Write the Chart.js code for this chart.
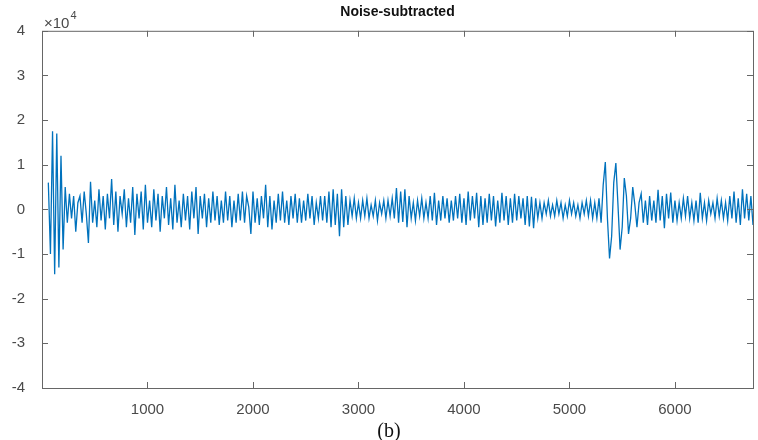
<!DOCTYPE html>
<html>
<head>
<meta charset="utf-8">
<title>Noise-subtracted</title>
<script src="https://cdn.jsdelivr.net/npm/chart.js@4/dist/chart.umd.min.js"></script>
<style>
  html, body { margin: 0; padding: 0; background: #fff; }
  #wrap { width: 758px; height: 440px; }
</style>
</head>
<body>
<div id="wrap"><canvas id="noiseChart" width="758" height="440"></canvas></div>
<script>
// sample index of the first value and spacing between values
const sampleStart = 60;
const sampleStep = 20;

// amplitude, in units of 10^4
const signal = [
    0.6, -1.0, 1.75, -1.45, 1.7, -1.3, 1.2, -0.9, 0.5, -0.3,
    0.35, -0.2, 0.3, -0.5, 0.15, 0.3, -0.3, 0.4, -0.1, -0.75,
    0.62, -0.3, 0.2, -0.4, 0.45, -0.25, 0.3, -0.45, 0.35, -0.2,
    0.68, -0.35, 0.4, -0.5, 0.3, -0.1, 0.45, -0.4, 0.25, -0.3,
    0.5, -0.57, 0.35, -0.2, 0.4, -0.45, 0.55, -0.3, 0.2, -0.4,
    0.45, -0.25, 0.35, -0.5, 0.3, -0.2, 0.5, -0.35, 0.25, -0.45,
    0.55, -0.3, 0.2, -0.4, 0.35, -0.25, 0.3, -0.45, 0.4, -0.2,
    0.5, -0.55, 0.3, -0.2, 0.35, -0.4, 0.25, -0.3, 0.4, -0.25,
    0.3, -0.35, 0.2, -0.3, 0.4, -0.25, 0.3, -0.4, 0.2, -0.3,
    0.35, -0.25, 0.4, -0.3, 0.3, 0.05, -0.55, 0.4, -0.3, 0.25,
    -0.35, 0.3, -0.2, 0.55, -0.4, 0.3, -0.45, 0.2, -0.3, 0.35,
    -0.25, 0.4, -0.3, 0.2, -0.35, 0.3, -0.2, 0.35, -0.3, 0.25,
    -0.3, 0.2, -0.25, 0.35, -0.2, 0.3, -0.35, 0.15, -0.2, 0.3,
    -0.25, 0.3, -0.3, 0.4, -0.4, 0.45, -0.35, 0.35, -0.6, 0.45,
    -0.4, 0.3, -0.35, 0.2, -0.15, 0.25, -0.2, 0.15, -0.2, 0.2,
    -0.15, 0.25, -0.2, 0.1, -0.15, 0.2, -0.25, 0.15, -0.1, 0.2,
    -0.2, 0.2, -0.15, 0.25, -0.2, 0.48, -0.3, 0.4, -0.28, 0.45,
    -0.4, 0.3, -0.2, 0.15, -0.25, 0.2, -0.15, 0.25, -0.2, 0.15,
    -0.2, 0.3, -0.25, 0.37, -0.35, 0.2, -0.25, 0.3, -0.2, 0.25,
    -0.3, 0.2, -0.25, 0.3, -0.2, 0.35, -0.3, 0.25, -0.35, 0.4,
    -0.25, 0.3, -0.2, 0.37, -0.4, 0.3, -0.35, 0.25, -0.3, 0.35,
    -0.25, 0.3, -0.38, 0.2, -0.3, 0.37, -0.25, 0.3, -0.35, 0.25,
    -0.3, 0.35, -0.25, 0.3, -0.2, 0.25, -0.35, 0.3, -0.38, 0.28,
    -0.42, 0.25, -0.2, 0.15, -0.2, 0.15, -0.1, 0.2, -0.15, 0.1,
    -0.15, 0.2, -0.1, 0.15, -0.2, 0.1, -0.15, 0.2, -0.1, 0.15,
    -0.15, 0.1, -0.2, 0.15, -0.1, 0.2, -0.15, 0.2, -0.2, 0.15,
    -0.2, 0.25, -0.3, 0.55, 1.06, -0.2, -1.1, -0.6, 0.6, 1.04,
    0.1, -0.9, -0.4, 0.7, 0.3, -0.55, -0.2, 0.5, 0.1, -0.4,
    0.15, 0.35, -0.3, 0.2, -0.35, 0.3, -0.25, 0.2, -0.3, 0.44,
    -0.25, 0.3, -0.42, 0.35, -0.2, 0.38, -0.3, 0.2, -0.25, 0.15,
    -0.2, 0.25, -0.15, 0.3, -0.2, 0.15, -0.25, 0.2, -0.3, 0.37,
    -0.2, 0.15, -0.25, 0.2, -0.1, 0.15, -0.2, 0.25, -0.15, 0.2,
    -0.2, 0.15, -0.25, 0.3, -0.2, 0.4, -0.3, 0.25, -0.35, 0.45,
    -0.2, 0.35, -0.25, 0.3, -0.35
];

const xTickValues = [1000, 2000, 3000, 4000, 5000, 6000];
const yTickValues = [-4, -3, -2, -1, 0, 1, 2, 3, 4];

const points = signal.map((v, i) => ({ x: sampleStart + i * sampleStep, y: v }));

const axisColor = '#666';
const labelColor = '#4a4a4a';

// MATLAB style box with inward ticks, plus the x10^4 exponent and caption
const matlabBox = {
    id: 'matlabBox',
    afterDraw(chart) {
        const ctx = chart.ctx;
        const area = chart.chartArea;
        const xs = chart.scales.x;
        const ys = chart.scales.y;
        const len = 6;
        ctx.save();
        ctx.strokeStyle = axisColor;
        ctx.lineWidth = 1;
        ctx.strokeRect(area.left + 0.5, area.top + 0.5, area.right - area.left, area.bottom - area.top);
        ctx.beginPath();
        xs.ticks.forEach(t => {
            const px = Math.round(xs.getPixelForValue(t.value)) + 0.5;
            ctx.moveTo(px, area.bottom); ctx.lineTo(px, area.bottom - len);
            ctx.moveTo(px, area.top); ctx.lineTo(px, area.top + len);
        });
        ys.ticks.forEach(t => {
            const py = Math.round(ys.getPixelForValue(t.value)) + 0.5;
            ctx.moveTo(area.left, py); ctx.lineTo(area.left + len, py);
            ctx.moveTo(area.right, py); ctx.lineTo(area.right - len, py);
        });
        ctx.stroke();

        // exponent label
        ctx.fillStyle = labelColor;
        ctx.textBaseline = 'alphabetic';
        ctx.textAlign = 'left';
        ctx.font = '15px "Liberation Sans", Arial, sans-serif';
        ctx.fillText('\u00d710', area.left + 2, area.top - 3);
        const w = ctx.measureText('\u00d710').width;
        ctx.font = '11px "Liberation Sans", Arial, sans-serif';
        ctx.fillText('4', area.left + 3 + w, area.top - 12);

        // caption
        ctx.fillStyle = '#111';
        ctx.textAlign = 'center';
        ctx.font = '20px "Liberation Serif", "Times New Roman", serif';
        ctx.fillText('(b)', 389, 437);
        ctx.restore();
    }
};

const ctx = document.getElementById('noiseChart').getContext('2d');
new Chart(ctx, {
    type: 'line',
    data: {
        datasets: [{
            label: 'Noise-subtracted',
            data: points,
            borderColor: '#0072BD',
            borderWidth: 1.3,
            pointRadius: 0,
            tension: 0,
            fill: false
        }]
    },
    options: {
        responsive: false,
        animation: false,
        devicePixelRatio: 1,
        layout: { padding: { top: 0, right: 5, bottom: 0, left: 0 } },
        plugins: {
            legend: { display: false },
            tooltip: { enabled: false },
            title: {
                display: true,
                fullSize: false,
                text: 'Noise-subtracted',
                color: '#111',
                font: { family: '"Liberation Sans", Arial, sans-serif', size: 14, weight: 'bold' },
                padding: { top: 4, bottom: 10 }
            }
        },
        scales: {
            x: {
                type: 'linear',
                min: 0,
                max: 6740,
                grid: { display: false },
                border: { display: false },
                afterBuildTicks: s => { s.ticks = xTickValues.map(v => ({ value: v })); },
                afterFit: s => { s.height = 52; },
                ticks: {
                    color: labelColor,
                    padding: 5,
                    maxRotation: 0,
                    font: { family: '"Liberation Sans", Arial, sans-serif', size: 15 },
                    callback: v => String(v)
                }
            },
            y: {
                min: -4,
                max: 4,
                grid: { display: false },
                border: { display: false },
                afterBuildTicks: s => { s.ticks = yTickValues.map(v => ({ value: v })); },
                afterFit: s => { s.width = 42; },
                ticks: {
                    color: labelColor,
                    padding: 9,
                    font: { family: '"Liberation Sans", Arial, sans-serif', size: 15 },
                    callback: v => String(v)
                }
            }
        }
    },
    plugins: [matlabBox]
});
</script>
</body>
</html>
